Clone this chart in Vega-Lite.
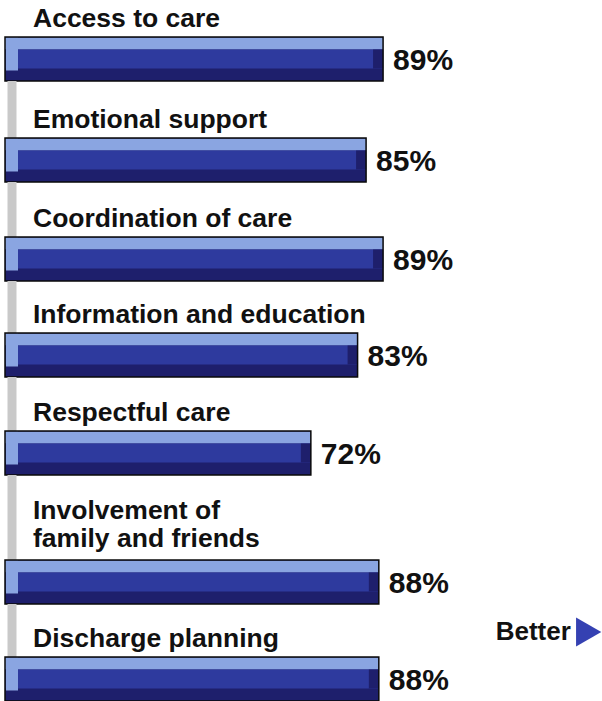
{
  "$schema": "https://vega.github.io/schema/vega-lite/v6.json",
  "background": "white",
  "padding": {"left": 4, "top": 0, "right": 0, "bottom": 0},
  "spacing": 0,
  "bounds": "flush",
  "datasets": {
    "scores": [
      {"measure": "Access to care", "label": "Access to care", "pct": 0.89},
      {"measure": "Emotional support", "label": "Emotional support", "pct": 0.85},
      {"measure": "Coordination of care", "label": "Coordination of care", "pct": 0.89},
      {"measure": "Information and education", "label": "Information and education", "pct": 0.83},
      {"measure": "Respectful care", "label": "Respectful care", "pct": 0.72},
      {"measure": "Involvement of family and friends", "label": "Involvement of\nfamily and friends", "pct": 0.88},
      {"measure": "Discharge planning", "label": "Discharge planning", "pct": 0.88}
    ]
  },
  "data": {"name": "scores"},
  "config": {
    "view": {"stroke": null},
    "axis": {"disable": true},
    "text": {"font": "Liberation Sans", "fontWeight": "bold", "color": "#111111"},
    "tick": {"opacity": 1}
  },
  "vconcat": [
    {
      "width": 596, "height": 81,
      "transform": [{"filter": "datum.measure === 'Access to care'"}],
      "layer": [
        {"mark": {"type": "bar", "color": "#1E1F6C"},
         "encoding": {"x": {"field": "pct", "type": "quantitative", "scale": {"domain": [0, 1.403], "nice": false, "zero": true}}, "x2": {"datum": 0}, "y": {"field": "measure", "type": "nominal", "scale": {"paddingInner": 0, "paddingOuter": 0.4205, "align": 1}}}},
        {"mark": {"type": "bar", "color": "#8AA5E1", "height": 12, "yOffset": -15.5},
         "encoding": {"x": {"field": "pct", "type": "quantitative"}, "x2": {"datum": 0}, "y": {"field": "measure", "type": "nominal"}}},
        {"mark": {"type": "bar", "color": "#2E3A9E", "height": 19, "yOffset": 0},
         "encoding": {"x": {"field": "pct", "type": "quantitative"}, "x2": {"datum": 0}, "y": {"field": "measure", "type": "nominal"}}},
        {"mark": {"type": "tick", "color": "#8AA5E1", "orient": "vertical", "thickness": 12, "size": 33, "yOffset": -5, "xOffset": 7},
         "encoding": {"x": {"datum": 0, "type": "quantitative"}, "y": {"field": "measure", "type": "nominal"}}},
        {"mark": {"type": "tick", "color": "#1E1F6C", "orient": "vertical", "thickness": 10, "size": 19, "xOffset": -5},
         "encoding": {"x": {"field": "pct", "type": "quantitative"}, "y": {"field": "measure", "type": "nominal"}}},
        {"mark": {"type": "bar", "fill": null, "fillOpacity": 0, "stroke": "#0a0a0a", "strokeWidth": 1.5},
         "encoding": {"x": {"field": "pct", "type": "quantitative"}, "x2": {"datum": 0}, "y": {"field": "measure", "type": "nominal"}}},
        {"mark": {"type": "text", "align": "left", "baseline": "alphabetic", "dx": 28, "dy": -10, "fontSize": 26.5, "lineBreak": "\n", "lineHeight": 28},
         "encoding": {"x": {"datum": 0, "type": "quantitative"}, "y": {"field": "measure", "type": "nominal", "bandPosition": 0}, "text": {"field": "label"}}},
        {"mark": {"type": "text", "align": "left", "baseline": "middle", "dx": 10, "dy": 2, "fontSize": 30},
         "encoding": {"x": {"field": "pct", "type": "quantitative"}, "y": {"field": "measure", "type": "nominal"}, "text": {"field": "pct", "format": ".0%"}}}
      ]
    },
    {
      "width": 596, "height": 101,
      "transform": [{"filter": "datum.measure === 'Emotional support'"}],
      "layer": [
        {"mark": {"type": "rule", "color": "#C9C9C9", "strokeWidth": 9, "xOffset": 7},
         "encoding": {"x": {"datum": 0, "type": "quantitative", "scale": {"domain": [0, 1.403], "nice": false, "zero": true}}}},
        {"mark": {"type": "bar", "color": "#1E1F6C"},
         "encoding": {"x": {"field": "pct", "type": "quantitative"}, "x2": {"datum": 0}, "y": {"field": "measure", "type": "nominal", "scale": {"paddingInner": 0, "paddingOuter": 0.6477, "align": 1}}}},
        {"mark": {"type": "bar", "color": "#8AA5E1", "height": 12, "yOffset": -15.5},
         "encoding": {"x": {"field": "pct", "type": "quantitative"}, "x2": {"datum": 0}, "y": {"field": "measure", "type": "nominal"}}},
        {"mark": {"type": "bar", "color": "#2E3A9E", "height": 19, "yOffset": 0},
         "encoding": {"x": {"field": "pct", "type": "quantitative"}, "x2": {"datum": 0}, "y": {"field": "measure", "type": "nominal"}}},
        {"mark": {"type": "tick", "color": "#8AA5E1", "orient": "vertical", "thickness": 12, "size": 33, "yOffset": -5, "xOffset": 7},
         "encoding": {"x": {"datum": 0, "type": "quantitative"}, "y": {"field": "measure", "type": "nominal"}}},
        {"mark": {"type": "tick", "color": "#1E1F6C", "orient": "vertical", "thickness": 10, "size": 19, "xOffset": -5},
         "encoding": {"x": {"field": "pct", "type": "quantitative"}, "y": {"field": "measure", "type": "nominal"}}},
        {"mark": {"type": "bar", "fill": null, "fillOpacity": 0, "stroke": "#0a0a0a", "strokeWidth": 1.5},
         "encoding": {"x": {"field": "pct", "type": "quantitative"}, "x2": {"datum": 0}, "y": {"field": "measure", "type": "nominal"}}},
        {"mark": {"type": "text", "align": "left", "baseline": "alphabetic", "dx": 28, "dy": -10, "fontSize": 26.5, "lineBreak": "\n", "lineHeight": 28},
         "encoding": {"x": {"datum": 0, "type": "quantitative"}, "y": {"field": "measure", "type": "nominal", "bandPosition": 0}, "text": {"field": "label"}}},
        {"mark": {"type": "text", "align": "left", "baseline": "middle", "dx": 10, "dy": 2, "fontSize": 30},
         "encoding": {"x": {"field": "pct", "type": "quantitative"}, "y": {"field": "measure", "type": "nominal"}, "text": {"field": "pct", "format": ".0%"}}}
      ]
    },
    {
      "width": 596, "height": 99,
      "transform": [{"filter": "datum.measure === 'Coordination of care'"}],
      "layer": [
        {"mark": {"type": "rule", "color": "#C9C9C9", "strokeWidth": 9, "xOffset": 7},
         "encoding": {"x": {"datum": 0, "type": "quantitative", "scale": {"domain": [0, 1.403], "nice": false, "zero": true}}}},
        {"mark": {"type": "bar", "color": "#1E1F6C"},
         "encoding": {"x": {"field": "pct", "type": "quantitative"}, "x2": {"datum": 0}, "y": {"field": "measure", "type": "nominal", "scale": {"paddingInner": 0, "paddingOuter": 0.625, "align": 1}}}},
        {"mark": {"type": "bar", "color": "#8AA5E1", "height": 12, "yOffset": -15.5},
         "encoding": {"x": {"field": "pct", "type": "quantitative"}, "x2": {"datum": 0}, "y": {"field": "measure", "type": "nominal"}}},
        {"mark": {"type": "bar", "color": "#2E3A9E", "height": 19, "yOffset": 0},
         "encoding": {"x": {"field": "pct", "type": "quantitative"}, "x2": {"datum": 0}, "y": {"field": "measure", "type": "nominal"}}},
        {"mark": {"type": "tick", "color": "#8AA5E1", "orient": "vertical", "thickness": 12, "size": 33, "yOffset": -5, "xOffset": 7},
         "encoding": {"x": {"datum": 0, "type": "quantitative"}, "y": {"field": "measure", "type": "nominal"}}},
        {"mark": {"type": "tick", "color": "#1E1F6C", "orient": "vertical", "thickness": 10, "size": 19, "xOffset": -5},
         "encoding": {"x": {"field": "pct", "type": "quantitative"}, "y": {"field": "measure", "type": "nominal"}}},
        {"mark": {"type": "bar", "fill": null, "fillOpacity": 0, "stroke": "#0a0a0a", "strokeWidth": 1.5},
         "encoding": {"x": {"field": "pct", "type": "quantitative"}, "x2": {"datum": 0}, "y": {"field": "measure", "type": "nominal"}}},
        {"mark": {"type": "text", "align": "left", "baseline": "alphabetic", "dx": 28, "dy": -10, "fontSize": 26.5, "lineBreak": "\n", "lineHeight": 28},
         "encoding": {"x": {"datum": 0, "type": "quantitative"}, "y": {"field": "measure", "type": "nominal", "bandPosition": 0}, "text": {"field": "label"}}},
        {"mark": {"type": "text", "align": "left", "baseline": "middle", "dx": 10, "dy": 2, "fontSize": 30},
         "encoding": {"x": {"field": "pct", "type": "quantitative"}, "y": {"field": "measure", "type": "nominal"}, "text": {"field": "pct", "format": ".0%"}}}
      ]
    },
    {
      "width": 596, "height": 96,
      "transform": [{"filter": "datum.measure === 'Information and education'"}],
      "layer": [
        {"mark": {"type": "rule", "color": "#C9C9C9", "strokeWidth": 9, "xOffset": 7},
         "encoding": {"x": {"datum": 0, "type": "quantitative", "scale": {"domain": [0, 1.403], "nice": false, "zero": true}}}},
        {"mark": {"type": "bar", "color": "#1E1F6C"},
         "encoding": {"x": {"field": "pct", "type": "quantitative"}, "x2": {"datum": 0}, "y": {"field": "measure", "type": "nominal", "scale": {"paddingInner": 0, "paddingOuter": 0.5909, "align": 1}}}},
        {"mark": {"type": "bar", "color": "#8AA5E1", "height": 12, "yOffset": -15.5},
         "encoding": {"x": {"field": "pct", "type": "quantitative"}, "x2": {"datum": 0}, "y": {"field": "measure", "type": "nominal"}}},
        {"mark": {"type": "bar", "color": "#2E3A9E", "height": 19, "yOffset": 0},
         "encoding": {"x": {"field": "pct", "type": "quantitative"}, "x2": {"datum": 0}, "y": {"field": "measure", "type": "nominal"}}},
        {"mark": {"type": "tick", "color": "#8AA5E1", "orient": "vertical", "thickness": 12, "size": 33, "yOffset": -5, "xOffset": 7},
         "encoding": {"x": {"datum": 0, "type": "quantitative"}, "y": {"field": "measure", "type": "nominal"}}},
        {"mark": {"type": "tick", "color": "#1E1F6C", "orient": "vertical", "thickness": 10, "size": 19, "xOffset": -5},
         "encoding": {"x": {"field": "pct", "type": "quantitative"}, "y": {"field": "measure", "type": "nominal"}}},
        {"mark": {"type": "bar", "fill": null, "fillOpacity": 0, "stroke": "#0a0a0a", "strokeWidth": 1.5},
         "encoding": {"x": {"field": "pct", "type": "quantitative"}, "x2": {"datum": 0}, "y": {"field": "measure", "type": "nominal"}}},
        {"mark": {"type": "text", "align": "left", "baseline": "alphabetic", "dx": 28, "dy": -10, "fontSize": 26.5, "lineBreak": "\n", "lineHeight": 28},
         "encoding": {"x": {"datum": 0, "type": "quantitative"}, "y": {"field": "measure", "type": "nominal", "bandPosition": 0}, "text": {"field": "label"}}},
        {"mark": {"type": "text", "align": "left", "baseline": "middle", "dx": 10, "dy": 2, "fontSize": 30},
         "encoding": {"x": {"field": "pct", "type": "quantitative"}, "y": {"field": "measure", "type": "nominal"}, "text": {"field": "pct", "format": ".0%"}}}
      ]
    },
    {
      "width": 596, "height": 98,
      "transform": [{"filter": "datum.measure === 'Respectful care'"}],
      "layer": [
        {"mark": {"type": "rule", "color": "#C9C9C9", "strokeWidth": 9, "xOffset": 7},
         "encoding": {"x": {"datum": 0, "type": "quantitative", "scale": {"domain": [0, 1.403], "nice": false, "zero": true}}}},
        {"mark": {"type": "bar", "color": "#1E1F6C"},
         "encoding": {"x": {"field": "pct", "type": "quantitative"}, "x2": {"datum": 0}, "y": {"field": "measure", "type": "nominal", "scale": {"paddingInner": 0, "paddingOuter": 0.6136, "align": 1}}}},
        {"mark": {"type": "bar", "color": "#8AA5E1", "height": 12, "yOffset": -15.5},
         "encoding": {"x": {"field": "pct", "type": "quantitative"}, "x2": {"datum": 0}, "y": {"field": "measure", "type": "nominal"}}},
        {"mark": {"type": "bar", "color": "#2E3A9E", "height": 19, "yOffset": 0},
         "encoding": {"x": {"field": "pct", "type": "quantitative"}, "x2": {"datum": 0}, "y": {"field": "measure", "type": "nominal"}}},
        {"mark": {"type": "tick", "color": "#8AA5E1", "orient": "vertical", "thickness": 12, "size": 33, "yOffset": -5, "xOffset": 7},
         "encoding": {"x": {"datum": 0, "type": "quantitative"}, "y": {"field": "measure", "type": "nominal"}}},
        {"mark": {"type": "tick", "color": "#1E1F6C", "orient": "vertical", "thickness": 10, "size": 19, "xOffset": -5},
         "encoding": {"x": {"field": "pct", "type": "quantitative"}, "y": {"field": "measure", "type": "nominal"}}},
        {"mark": {"type": "bar", "fill": null, "fillOpacity": 0, "stroke": "#0a0a0a", "strokeWidth": 1.5},
         "encoding": {"x": {"field": "pct", "type": "quantitative"}, "x2": {"datum": 0}, "y": {"field": "measure", "type": "nominal"}}},
        {"mark": {"type": "text", "align": "left", "baseline": "alphabetic", "dx": 28, "dy": -10, "fontSize": 26.5, "lineBreak": "\n", "lineHeight": 28},
         "encoding": {"x": {"datum": 0, "type": "quantitative"}, "y": {"field": "measure", "type": "nominal", "bandPosition": 0}, "text": {"field": "label"}}},
        {"mark": {"type": "text", "align": "left", "baseline": "middle", "dx": 10, "dy": 2, "fontSize": 30},
         "encoding": {"x": {"field": "pct", "type": "quantitative"}, "y": {"field": "measure", "type": "nominal"}, "text": {"field": "pct", "format": ".0%"}}}
      ]
    },
    {
      "width": 596, "height": 129,
      "transform": [{"filter": "datum.measure === 'Involvement of family and friends'"}],
      "layer": [
        {"mark": {"type": "rule", "color": "#C9C9C9", "strokeWidth": 9, "xOffset": 7},
         "encoding": {"x": {"datum": 0, "type": "quantitative", "scale": {"domain": [0, 1.403], "nice": false, "zero": true}}}},
        {"mark": {"type": "bar", "color": "#1E1F6C"},
         "encoding": {"x": {"field": "pct", "type": "quantitative"}, "x2": {"datum": 0}, "y": {"field": "measure", "type": "nominal", "scale": {"paddingInner": 0, "paddingOuter": 0.9659, "align": 1}}}},
        {"mark": {"type": "bar", "color": "#8AA5E1", "height": 12, "yOffset": -15.5},
         "encoding": {"x": {"field": "pct", "type": "quantitative"}, "x2": {"datum": 0}, "y": {"field": "measure", "type": "nominal"}}},
        {"mark": {"type": "bar", "color": "#2E3A9E", "height": 19, "yOffset": 0},
         "encoding": {"x": {"field": "pct", "type": "quantitative"}, "x2": {"datum": 0}, "y": {"field": "measure", "type": "nominal"}}},
        {"mark": {"type": "tick", "color": "#8AA5E1", "orient": "vertical", "thickness": 12, "size": 33, "yOffset": -5, "xOffset": 7},
         "encoding": {"x": {"datum": 0, "type": "quantitative"}, "y": {"field": "measure", "type": "nominal"}}},
        {"mark": {"type": "tick", "color": "#1E1F6C", "orient": "vertical", "thickness": 10, "size": 19, "xOffset": -5},
         "encoding": {"x": {"field": "pct", "type": "quantitative"}, "y": {"field": "measure", "type": "nominal"}}},
        {"mark": {"type": "bar", "fill": null, "fillOpacity": 0, "stroke": "#0a0a0a", "strokeWidth": 1.5},
         "encoding": {"x": {"field": "pct", "type": "quantitative"}, "x2": {"datum": 0}, "y": {"field": "measure", "type": "nominal"}}},
        {"mark": {"type": "text", "align": "left", "baseline": "alphabetic", "dx": 28, "dy": -41, "fontSize": 26.5, "lineBreak": "\n", "lineHeight": 28},
         "encoding": {"x": {"datum": 0, "type": "quantitative"}, "y": {"field": "measure", "type": "nominal", "bandPosition": 0}, "text": {"field": "label"}}},
        {"mark": {"type": "text", "align": "left", "baseline": "middle", "dx": 10, "dy": 2, "fontSize": 30},
         "encoding": {"x": {"field": "pct", "type": "quantitative"}, "y": {"field": "measure", "type": "nominal"}, "text": {"field": "pct", "format": ".0%"}}}
      ]
    },
    {
      "width": 596, "height": 97,
      "transform": [{"filter": "datum.measure === 'Discharge planning'"}],
      "layer": [
        {"mark": {"type": "rule", "color": "#C9C9C9", "strokeWidth": 9, "xOffset": 7},
         "encoding": {"x": {"datum": 0, "type": "quantitative", "scale": {"domain": [0, 1.403], "nice": false, "zero": true}}}},
        {"mark": {"type": "bar", "color": "#1E1F6C"},
         "encoding": {"x": {"field": "pct", "type": "quantitative"}, "x2": {"datum": 0}, "y": {"field": "measure", "type": "nominal", "scale": {"paddingInner": 0, "paddingOuter": 0.6023, "align": 1}}}},
        {"mark": {"type": "bar", "color": "#8AA5E1", "height": 12, "yOffset": -15.5},
         "encoding": {"x": {"field": "pct", "type": "quantitative"}, "x2": {"datum": 0}, "y": {"field": "measure", "type": "nominal"}}},
        {"mark": {"type": "bar", "color": "#2E3A9E", "height": 19, "yOffset": 0},
         "encoding": {"x": {"field": "pct", "type": "quantitative"}, "x2": {"datum": 0}, "y": {"field": "measure", "type": "nominal"}}},
        {"mark": {"type": "tick", "color": "#8AA5E1", "orient": "vertical", "thickness": 12, "size": 33, "yOffset": -5, "xOffset": 7},
         "encoding": {"x": {"datum": 0, "type": "quantitative"}, "y": {"field": "measure", "type": "nominal"}}},
        {"mark": {"type": "tick", "color": "#1E1F6C", "orient": "vertical", "thickness": 10, "size": 19, "xOffset": -5},
         "encoding": {"x": {"field": "pct", "type": "quantitative"}, "y": {"field": "measure", "type": "nominal"}}},
        {"mark": {"type": "bar", "fill": null, "fillOpacity": 0, "stroke": "#0a0a0a", "strokeWidth": 1.5},
         "encoding": {"x": {"field": "pct", "type": "quantitative"}, "x2": {"datum": 0}, "y": {"field": "measure", "type": "nominal"}}},
        {"mark": {"type": "text", "align": "left", "baseline": "alphabetic", "dx": 28, "dy": -10, "fontSize": 26.5, "lineBreak": "\n", "lineHeight": 28},
         "encoding": {"x": {"datum": 0, "type": "quantitative"}, "y": {"field": "measure", "type": "nominal", "bandPosition": 0}, "text": {"field": "label"}}},
        {"mark": {"type": "text", "align": "left", "baseline": "middle", "dx": 10, "dy": 2, "fontSize": 30},
         "encoding": {"x": {"field": "pct", "type": "quantitative"}, "y": {"field": "measure", "type": "nominal"}, "text": {"field": "pct", "format": ".0%"}}},
        {"mark": {"type": "text", "align": "left", "baseline": "middle", "dy": -25, "fontSize": 26},
         "encoding": {"x": {"datum": 1.155, "type": "quantitative"}, "y": {"field": "measure", "type": "nominal", "bandPosition": 0}, "text": {"value": "Better"}}},
        {"mark": {"type": "point", "shape": "triangle-right", "filled": true, "color": "#3541B2", "opacity": 1, "size": 850, "yOffset": -25},
         "encoding": {"x": {"datum": 1.374, "type": "quantitative"}, "y": {"field": "measure", "type": "nominal", "bandPosition": 0}}}
      ]
    }
  ]
}
